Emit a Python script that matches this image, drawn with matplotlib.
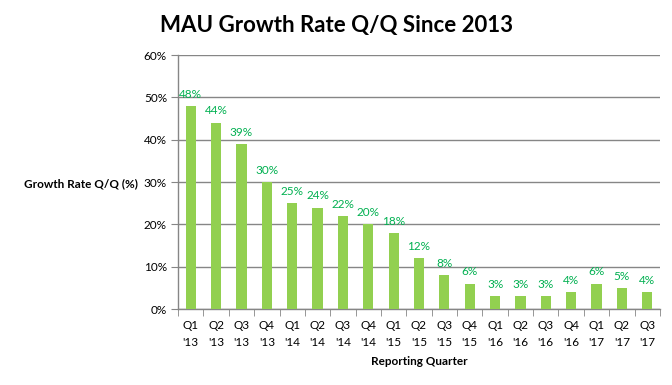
import matplotlib
matplotlib.use("Agg")
import matplotlib.pyplot as plt
import numpy as np

quarters = ["Q1\n'13", "Q2\n'13", "Q3\n'13", "Q4\n'13",
            "Q1\n'14", "Q2\n'14", "Q3\n'14", "Q4\n'14",
            "Q1\n'15", "Q2\n'15", "Q3\n'15", "Q4\n'15",
            "Q1\n'16", "Q2\n'16", "Q3\n'16", "Q4\n'16",
            "Q1\n'17", "Q2\n'17", "Q3\n'17"]
growth = [48, 44, 39, 30, 25, 24, 22, 20, 18, 12, 8, 6, 3, 3, 3, 4, 6, 5, 4]
yticks = [0, 10, 20, 30, 40, 50, 60]

plt.rcParams['font.family'] = ['Lato', 'DejaVu Sans']

fig = plt.figure(figsize=(6.72, 3.85), dpi=100)
ax = fig.add_axes([0.265, 0.197, 0.717, 0.66])

x = np.arange(len(growth))
ax.bar(x, growth, width=0.4, color="#92D050", zorder=3)
for xi, v in zip(x, growth):
    ax.text(xi, v + 1.5, f"{v}%", ha="center", va="bottom", color="#00B050", fontsize=8.5, zorder=4)

ax.set_xlim(-0.5, len(growth) - 0.5)
ax.set_ylim(0, 60)
ax.set_yticks(yticks)
ax.set_yticklabels([f"{t}%" for t in yticks], fontsize=8.5)
ax.set_xticks(x)
ax.set_xticklabels(quarters, fontsize=8.5, linespacing=1.6)
ax.set_xticks(np.arange(-0.5, len(growth)), minor=True)
ax.tick_params(axis='x', which='major', length=0, pad=8)
ax.tick_params(axis='x', which='minor', length=5, color="#868686", direction='out')
ax.tick_params(axis='y', length=5, color="#868686", direction='out', pad=3)

ax.grid(axis='y', color="#868686", linewidth=1, zorder=0)
for s in ['top', 'right']:
    ax.spines[s].set_visible(False)
for s in ['left', 'bottom']:
    ax.spines[s].set_color("#868686")
    ax.spines[s].set_linewidth(1)

ax.set_xlabel("Reporting Quarter", fontsize=8.5, fontweight='bold', labelpad=6)
fig.text(0.205, 0.522, "Growth Rate Q/Q (%)", fontsize=8.5, fontweight='bold', ha='right', va='center')
fig.text(0.5, 0.935, "MAU Growth Rate Q/Q Since 2013", fontsize=16, fontweight='bold', ha='center', va='center')

fig.savefig("out.png", dpi=100)
